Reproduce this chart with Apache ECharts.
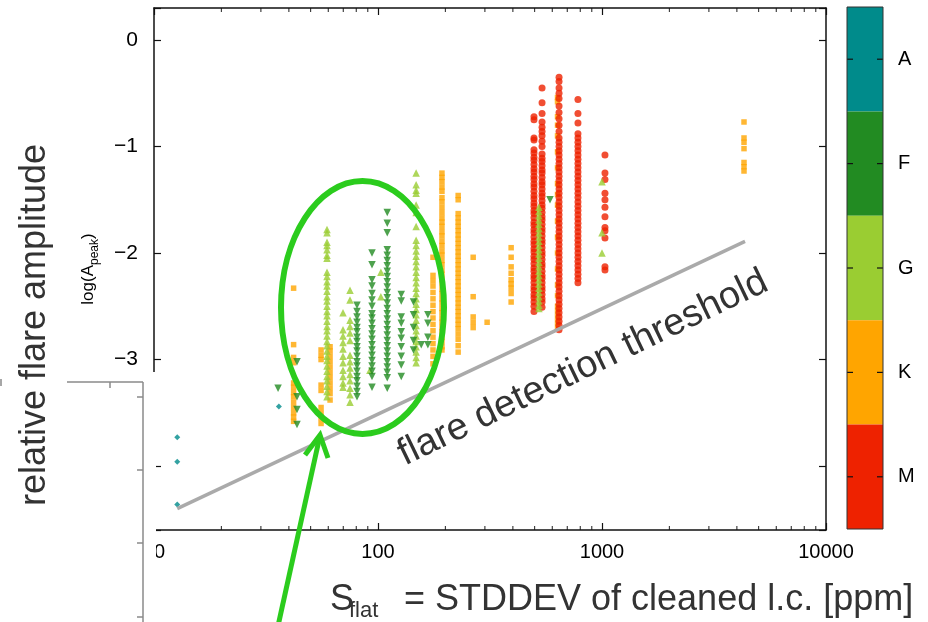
<!DOCTYPE html>
<html><head><meta charset="utf-8">
<script src="https://cdn.jsdelivr.net/npm/echarts@6/dist/echarts.min.js"></script>
<style>html,body{margin:0;padding:0;background:#fff}#c{width:928px;height:622px}</style>
</head><body><div id="c"></div>
<script>
// ---- data (x = S_flat [ppm], y = log A_peak) ----
const classNames = ['A', 'F', 'G', 'K', 'M'];
const classColors = ['#008b8b', '#228b22', '#9acd32', '#ffa500', '#ee2200'];
const xMin = 10, xMax = 10000, yMin = -4.6, yMax = 0.3;
const xMinorTicks = [20,30,40,50,60,70,80,90,200,300,400,500,600,700,800,900,2000,3000,4000,5000,6000,7000,8000,9000];
const thresholdLine = [[12.7, -4.40], [4350, -1.89]];

const A_cols = [
  [12.7, [-3.73, -3.96, -4.36]],
  [36.1, [-3.44]]
];
const F_cols = [
  [35.8, [-3.27]],
  [43.5, [-3.02, -3.35, -3.47, -3.61]],
  [80.6, [-2.49,-2.55,-2.60,-2.65,-2.70,-2.74,-2.79,-2.83,-2.88,-2.92,-2.97,-3.02,-3.06,-3.11,-3.16,-3.20,-3.25,-3.30,-3.35]],
  [94, [-2.00,-2.11,-2.25,-2.31,-2.38,-2.44,-2.50,-2.57,-2.61,-2.66,-2.71,-2.76,-2.81,-2.86,-2.91,-2.96,-3.01,-3.06,-3.11,-3.16,-3.26]],
  [110, [-1.62,-1.72,-1.81,-1.97,-2.02,-2.07,-2.12,-2.17,-2.22,-2.27,-2.32,-2.37,-2.42,-2.47,-2.52,-2.57,-2.62,-2.67,-2.72,-2.77,-2.82,-2.87,-2.92,-2.97,-3.02,-3.07,-3.12,-3.17,-3.27]],
  [127, [-2.39,-2.45,-2.60,-2.66,-2.74,-2.80,-2.88,-2.97,-3.05,-3.16]],
  [144, [-2.46,-2.58,-2.70,-2.82,-2.91]],
  [156, [-2.86]],
  [167, [-2.58,-2.66,-2.79,-2.86]],
  [586, [-1.50]]
];
const G_cols = [
  [59.2, [-1.78,-1.81,-1.90,-1.93,-1.97,-2.02,-2.05,-2.18,-2.22,-2.27,-2.31,-2.36,-2.41,-2.45,-2.50,-2.55,-2.59,-2.64,-2.69,-2.73,-2.78,-2.83,-2.87,-2.92,-2.97,-3.01,-3.06,-3.11,-3.16,-3.20,-3.25,-3.30,-3.35]],
  [69.8, [-2.56,-2.72,-2.78,-2.84,-2.90,-2.97,-3.03,-3.10,-3.16,-3.22,-3.26]],
  [75, [-2.35,-2.44,-2.63,-2.69,-2.75,-2.82,-2.96,-3.02,-3.08,-3.14,-3.20,-3.27,-3.33,-3.40]],
  [92, [-3.10]],
  [103, [-2.18, -2.41]],
  [148, [-1.25,-1.36,-1.41,-1.44,-1.55,-1.62,-1.75,-1.88,-1.93,-1.98,-2.03,-2.08,-2.13,-2.18,-2.23,-2.28,-2.33,-2.38,-2.43,-2.48,-2.53,-2.58,-2.63,-2.68,-2.73,-2.78,-2.83,-2.88,-2.93,-2.98,-3.03]],
  [523, [-1.57,-1.61,-1.65,-1.69,-1.73,-1.77,-1.81,-1.85,-1.89,-1.93,-1.97,-2.01,-2.05,-2.09,-2.13,-2.17,-2.21,-2.25,-2.29,-2.33,-2.37,-2.41,-2.45,-2.49,-2.52]],
  [1000, [-1.33, -1.81, -2.00]]
];
const K_cols = [
  [42, [-2.33,-2.86,-2.98,-3.03,-3.22,-3.26,-3.31,-3.35,-3.40,-3.45,-3.50,-3.54,-3.58]],
  [55.7, [-2.91,-2.96,-3.00,-3.24,-3.29,-3.45,-3.50,-3.55,-3.60]],
  [61.1, [-2.88,-2.92,-2.97,-3.02,-3.07,-3.12,-3.17,-3.22,-3.27,-3.32,-3.38]],
  [176, [-2.04,-2.21,-2.26,-2.31,-2.37,-2.43,-2.49,-2.55,-2.61,-2.67,-2.73,-2.79,-2.85,-2.91,-2.97,-3.04]],
  [193, [-1.25,-1.29,-1.33,-1.38,-1.42,-1.48,-1.52,-1.57,-1.62,-1.67,-1.71,-1.75,-1.80,-1.84,-1.89,-1.93,-1.98,-2.02,-2.07,-2.11,-2.16,-2.20,-2.25,-2.29,-2.34,-2.38,-2.43,-2.47,-2.52,-2.56,-2.61,-2.65,-2.70,-2.74,-2.79,-2.83,-2.88,-2.91]],
  [228, [-1.46,-1.50,-1.63,-1.67,-1.71,-1.75,-1.79,-1.83,-1.87,-1.91,-1.95,-1.99,-2.03,-2.07,-2.11,-2.15,-2.19,-2.23,-2.27,-2.31,-2.35,-2.39,-2.43,-2.47,-2.51,-2.55,-2.59,-2.63,-2.67,-2.71,-2.76,-2.81,-2.87,-2.93]],
  [266, [-2.04,-2.41,-2.60,-2.65,-2.70]],
  [307, [-2.65]],
  [393, [-1.95,-2.04,-2.13,-2.19,-2.25,-2.29,-2.33,-2.38,-2.46]],
  [633, [-0.54,-0.58,-0.72,-0.80,-0.90,-1.05,-1.20,-1.35,-1.45,-1.55,-1.70,-1.85,-2.00,-2.15,-2.30,-2.40,-2.50,-2.55,-2.60,-2.65,-2.70]],
  [4305, [-0.77,-0.92,-0.96,-1.02,-1.15,-1.19,-1.23]]
];
const M_cols = [
  [497, [-0.72,-0.75,-0.92,-0.94,-1.03,-1.06,-1.10,-1.13,-1.17,-1.21,-1.24,-1.28,-1.31,-1.35,-1.38,-1.42,-1.46,-1.49,-1.53,-1.56,-1.60,-1.63,-1.67,-1.71,-1.74,-1.78,-1.81,-1.85,-1.89,-1.92,-1.96,-1.99,-2.03,-2.06,-2.10,-2.14,-2.17,-2.21,-2.24,-2.28,-2.32,-2.35,-2.39,-2.42,-2.46,-2.50,-2.55]],
  [540, [-0.45,-0.59,-0.69,-0.77,-0.82,-0.86,-0.90,-0.95,-1.00,-1.07,-1.11,-1.14,-1.18,-1.22,-1.25,-1.29,-1.33,-1.36,-1.40,-1.44,-1.47,-1.51,-1.55,-1.58,-1.62,-1.66,-1.69,-1.73,-1.77,-1.80,-1.84,-1.88,-1.91,-1.95,-1.99,-2.02,-2.06,-2.10,-2.13,-2.17,-2.21,-2.24,-2.28,-2.32,-2.35,-2.39,-2.43,-2.46,-2.51]],
  [643, [-0.35,-0.39,-0.45,-0.50,-0.55,-0.62,-0.68,-0.74,-0.80,-0.86,-0.92,-0.96,-1.00,-1.04,-1.08,-1.12,-1.16,-1.20,-1.24,-1.28,-1.32,-1.36,-1.40,-1.44,-1.48,-1.52,-1.56,-1.60,-1.64,-1.68,-1.72,-1.76,-1.80,-1.84,-1.88,-1.92,-1.96,-2.00,-2.04,-2.08,-2.12,-2.16,-2.20,-2.24,-2.28,-2.32,-2.36,-2.40,-2.44,-2.48,-2.52,-2.56,-2.60,-2.64,-2.68,-2.72]],
  [781, [-0.56,-0.69,-0.78,-0.88,-0.92,-0.96,-1.00,-1.04,-1.08,-1.12,-1.16,-1.20,-1.24,-1.28,-1.32,-1.36,-1.40,-1.44,-1.48,-1.52,-1.56,-1.60,-1.64,-1.68,-1.72,-1.76,-1.80,-1.84,-1.88,-1.92,-1.96,-2.00,-2.04,-2.08,-2.12,-2.16,-2.20,-2.24,-2.28]],
  [1031, [-1.08,-1.25,-1.31,-1.44,-1.50,-1.57,-1.66,-1.76,-1.79,-1.86,-2.13,-2.16]]
];

// ---- build ----
const flat = cols => cols.flatMap(([x, ys]) => ys.map(y => [x, y]));
const FONT = '"Liberation Sans", Arial, Helvetica, sans-serif';
const chart = echarts.init(document.getElementById('c'), null, {renderer: 'canvas'});

const axisLineStyle = {color: '#111', width: 1.5};
const tickStyle = {color: '#111', width: 1.2};
function scatter(name, cols, color, symbol, size, rotate) {
  return {type: 'scatter', name, data: flat(cols), symbol, symbolSize: size,
    symbolRotate: rotate || 0, itemStyle: {color}, silent: true, animation: false};
}
const minusFmt = v => {
  if (Math.abs(v - Math.round(v)) > 1e-6) return '';
  const r = Math.round(v);
  return r < 0 ? '\u2212' + (-r) : String(r);
};

const gfx = [];
// white patch + remnant axis from the pasted panel
gfx.push({type: 'rect', z: 50, shape: {x: 58, y: 372, width: 98, height: 250}, style: {fill: '#fff'}});
const remnant = [[67,382,143,382],[143,382,143,622],[110,382,110,388],[137,397,143,397],[137,470,143,470],[137,543,143,543],[137,617,143,617],[1,379,1,386]];
remnant.forEach(l => gfx.push({type: 'line', z: 51, shape: {x1: l[0], y1: l[1], x2: l[2], y2: l[3]}, style: {stroke: '#8a8a8a', lineWidth: 1.5}}));
// ellipse + arrow
const GREEN = '#2bcc1d';
gfx.push({type: 'ellipse', z: 60, shape: {cx: 362.5, cy: 307.5, rx: 81.5, ry: 126.5}, style: {fill: null, stroke: GREEN, lineWidth: 6}});
gfx.push({type: 'line', z: 60, shape: {x1: 278, y1: 626, x2: 319, y2: 440}, style: {stroke: GREEN, lineWidth: 5}});
gfx.push({type: 'polyline', z: 60, shape: {points: [[305, 455], [320, 435], [328, 458]]}, style: {stroke: GREEN, lineWidth: 5, fill: null, lineJoin: 'miter'}});
// texts
gfx.push({type: 'text', z: 70, x: 35, y: 325, rotation: Math.PI / 2,
  style: {text: 'relative flare amplitude', fontSize: 36, fontFamily: FONT, fill: '#333', align: 'center', verticalAlign: 'middle', textAlign: 'center', textVerticalAlign: 'middle'}});
gfx.push({type: 'text', z: 70, x: 330, y: 600,
  style: {text: 'S', fontSize: 36, fontFamily: FONT, fill: '#333', align: 'left', verticalAlign: 'middle', textAlign: 'left', textVerticalAlign: 'middle'}});
gfx.push({type: 'text', z: 70, x: 349, y: 611,
  style: {text: 'flat', fontSize: 22, fontFamily: FONT, fill: '#333', align: 'left', verticalAlign: 'middle', textAlign: 'left', textVerticalAlign: 'middle'}});
gfx.push({type: 'text', z: 70, x: 404, y: 600,
  style: {text: '= STDDEV of cleaned l.c. [ppm]', fontSize: 36, fontFamily: FONT, fill: '#333', align: 'left', verticalAlign: 'middle', textAlign: 'left', textVerticalAlign: 'middle'}});
gfx.push({type: 'text', z: 70, x: 583, y: 368, rotation: 0.45,
  style: {text: 'flare detection threshold', fontSize: 38, fontFamily: FONT, fill: '#333', align: 'center', verticalAlign: 'middle', textAlign: 'center', textVerticalAlign: 'middle'}});
// colour bar
const cbX = 847, cbY = 7, cbW = 36, cbH = 522, seg = cbH / classNames.length;
classNames.forEach((n, i) => {
  const y0 = cbY + i * seg, yc = y0 + seg / 2;
  gfx.push({type: 'rect', z: 40, shape: {x: cbX, y: y0, width: cbW, height: seg}, style: {fill: classColors[i]}});
  gfx.push({type: 'line', z: 42, shape: {x1: cbX, y1: yc, x2: cbX + 6, y2: yc}, style: {stroke: '#111', lineWidth: 1.2}});
  gfx.push({type: 'line', z: 42, shape: {x1: cbX + cbW - 6, y1: yc, x2: cbX + cbW, y2: yc}, style: {stroke: '#111', lineWidth: 1.2}});
  gfx.push({type: 'text', z: 42, x: cbX + 51, y: yc,
    style: {text: n, fontSize: 20, fontFamily: FONT, fill: '#000', align: 'left', verticalAlign: 'middle', textAlign: 'left', textVerticalAlign: 'middle'}});
});
gfx.push({type: 'rect', z: 43, shape: {x: cbX, y: cbY, width: cbW, height: cbH}, style: {fill: null, stroke: '#333', lineWidth: 1}});

const option = {
  animation: false,
  backgroundColor: '#fff',
  grid: {left: 154, right: 102, top: 8, bottom: 92, containLabel: false},
  xAxis: [
    {type: 'log', logBase: 10, min: xMin, max: xMax, position: 'bottom',
      axisLine: {onZero: false, lineStyle: axisLineStyle},
      axisTick: {inside: true, length: 7, lineStyle: tickStyle},
      axisLabel: {fontSize: 20, color: '#000', fontFamily: FONT, margin: 12, formatter: v => String(Math.round(v))},
      splitLine: {show: false}},
    {type: 'log', logBase: 10, min: xMin, max: xMax, position: 'top',
      axisLine: {onZero: false, lineStyle: axisLineStyle},
      axisTick: {inside: true, length: 7, lineStyle: tickStyle},
      axisLabel: {show: false}, splitLine: {show: false}}
  ],
  yAxis: [
    {type: 'value', min: yMin, max: yMax, splitNumber: 5, position: 'left',
      axisLine: {onZero: false, lineStyle: axisLineStyle},
      axisTick: {inside: true, length: 7, lineStyle: tickStyle},
      axisLabel: {fontSize: 21, color: '#000', fontFamily: FONT, margin: 16, formatter: minusFmt},
      splitLine: {show: false},
      name: '{a|log(A}{b|peak}{a|)}', nameLocation: 'middle', nameRotate: 90, nameGap: 54,
      nameTextStyle: {rich: {
        a: {fontSize: 17, fontFamily: FONT, color: '#000', lineHeight: 20, verticalAlign: 'top'},
        b: {fontSize: 12, fontFamily: FONT, color: '#000', lineHeight: 14, padding: [9, 0, 0, 0], verticalAlign: 'top'}
      }}},
    {type: 'value', min: yMin, max: yMax, splitNumber: 5, position: 'right',
      axisLine: {onZero: false, lineStyle: axisLineStyle},
      axisTick: {inside: true, length: 7, lineStyle: tickStyle},
      axisLabel: {show: false}, splitLine: {show: false}}
  ],
  series: [
    scatter('K', K_cols, classColors[3], 'rect', 5.5),
    scatter('M', M_cols, classColors[4], 'circle', 7),
    scatter('G', G_cols, classColors[2], 'triangle', 7.5),
    scatter('F', F_cols, classColors[1], 'triangle', 7.5, 180),
    scatter('A', A_cols, classColors[0], 'diamond', 6),
    {type: 'line', data: thresholdLine, symbol: 'none', silent: true, z: 5,
      lineStyle: {color: '#aaaaaa', width: 3.5}},
    {type: 'scatter', data: xMinorTicks.map(v => [v, yMin]), symbol: 'rect', symbolSize: [1.2, 4],
      symbolOffset: [0, -2], itemStyle: {color: '#111'}, clip: false, silent: true, z: 6},
    {type: 'scatter', data: xMinorTicks.map(v => [v, yMax]), symbol: 'rect', symbolSize: [1.2, 4],
      symbolOffset: [0, 2], itemStyle: {color: '#111'}, clip: false, silent: true, z: 6}
  ],
  graphic: {elements: gfx}
};
chart.setOption(option);
</script></body></html>
